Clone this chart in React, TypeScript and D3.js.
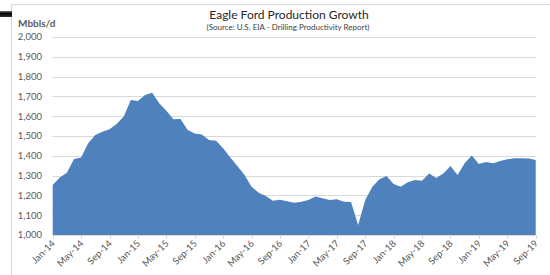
import { useEffect, useRef } from "react";
import * as d3 from "d3";

// monthly production, Jan-14 .. Sep-19 (Mbbls/d)
const monthNames = ["Jan", "Feb", "Mar", "Apr", "May", "Jun", "Jul", "Aug", "Sep", "Oct", "Nov", "Dec"];
const years = [14, 15, 16, 17, 18, 19];
const monthLabels = years.flatMap((yr) => monthNames.map((m) => `${m}-${yr}`)).slice(0, 69);

const production = [
  1252, 1291, 1315, 1384, 1392, 1463, 1505, 1522, 1534, 1560, 1598, 1682,
  1677, 1707, 1719, 1665, 1628, 1584, 1586, 1530, 1513, 1508, 1480, 1476,
  1438, 1392, 1349, 1303, 1244, 1214, 1197, 1173, 1178, 1170, 1163, 1168,
  1177, 1194, 1185, 1177, 1180, 1168, 1167, 1050, 1177, 1244, 1281, 1298,
  1258, 1244, 1266, 1278, 1274, 1311, 1288, 1311, 1348, 1303, 1362, 1401,
  1359, 1369, 1362, 1374, 1382, 1387, 1387, 1386, 1379,
];

const yTicks = [1000, 1100, 1200, 1300, 1400, 1500, 1600, 1700, 1800, 1900, 2000];

const font = "Lato, 'Open Sans', sans-serif";

export default function App() {
  const ref = useRef<SVGSVGElement | null>(null);

  useEffect(() => {
    if (!ref.current) return;
    const svg = d3.select(ref.current);
    svg.selectAll("*").remove();

    const width = 550;
    const height = 275;
    const left = 52.7;
    const right = 535.7;
    const top = 37;
    const bottom = 235;

    const data = production.map((v, i) => ({ i, v }));

    const x = d3.scaleLinear().domain([0, data.length - 1]).range([left, right]);
    const y = d3.scaleLinear().domain([1000, 2000]).range([bottom, top]);

    svg.append("rect").attr("width", width).attr("height", height).attr("fill", "#fff");

    // chart frame (right and bottom edges run off the page)
    svg
      .append("rect")
      .attr("x", 11.5)
      .attr("y", 4.5)
      .attr("width", 560)
      .attr("height", 290)
      .attr("fill", "none")
      .attr("stroke", "#d9d9d9");

    const grad = svg.append("defs").append("linearGradient").attr("id", "bar").attr("x1", 0).attr("y1", 0).attr("x2", 0).attr("y2", 1);
    grad.append("stop").attr("offset", 0).attr("stop-color", "#777");
    grad.append("stop").attr("offset", 0.4).attr("stop-color", "#000");
    grad.append("stop").attr("offset", 1).attr("stop-color", "#333");
    svg.append("rect").attr("x", 0).attr("y", 11).attr("width", 12).attr("height", 6).attr("fill", "url(#bar)");

    // gridlines
    svg
      .append("g")
      .selectAll("line")
      .data(yTicks.slice(1))
      .join("line")
      .attr("x1", left)
      .attr("x2", right)
      .attr("y1", (d) => Math.round(y(d)) + 0.5)
      .attr("y2", (d) => Math.round(y(d)) + 0.5)
      .attr("stroke", "#d9d9d9")
      .attr("stroke-width", 1);

    const area = d3
      .area<{ i: number; v: number }>()
      .x((d) => x(d.i))
      .y0(y(1000))
      .y1((d) => y(d.v));

    svg.append("path").datum(data).attr("fill", "#4f81bd").attr("d", area);

    // y labels
    svg
      .append("g")
      .selectAll("text")
      .data(yTicks)
      .join("text")
      .attr("x", 42)
      .attr("y", (d) => y(d))
      .attr("dy", "0.35em")
      .attr("text-anchor", "end")
      .attr("fill", "#595959")
      .attr("font-family", font)
      .attr("font-size", 9.5)
      .text((d) => d3.format(",")(d));

    // x axis
    const xAxis = svg.append("g").attr("transform", `translate(0,${bottom})`);
    xAxis
      .append("line")
      .attr("x1", left)
      .attr("x2", right)
      .attr("y1", 0.5)
      .attr("y2", 0.5)
      .attr("stroke", "#d9d9d9");

    const tickIdx = d3.range(0, data.length, 4);
    xAxis
      .selectAll("line.tick")
      .data(tickIdx)
      .join("line")
      .attr("class", "tick")
      .attr("x1", (d) => Math.round(x(d)) + 0.5)
      .attr("x2", (d) => Math.round(x(d)) + 0.5)
      .attr("y1", 0)
      .attr("y2", 4)
      .attr("stroke", "#d9d9d9");

    xAxis
      .selectAll("text")
      .data(tickIdx)
      .join("text")
      .attr("transform", (d) => `translate(${x(d) + 3},${9}) rotate(-45)`)
      .attr("text-anchor", "end")
      .attr("fill", "#595959")
      .attr("font-family", font)
      .attr("font-size", 9.5)
      .text((d) => monthLabels[d]);

    // titles
    svg
      .append("text")
      .attr("x", 289)
      .attr("y", 19)
      .attr("text-anchor", "middle")
      .attr("fill", "#262626")
      .attr("font-family", font)
      .attr("font-size", 12)
      .text("Eagle Ford Production Growth");

    svg
      .append("text")
      .attr("x", 288)
      .attr("y", 30)
      .attr("text-anchor", "middle")
      .attr("fill", "#404040")
      .attr("font-family", font)
      .attr("font-size", 8)
      .text("(Source: U.S. EIA - Drilling Productivity Report)");

    svg
      .append("text")
      .attr("x", 18)
      .attr("y", 27)
      .attr("fill", "#595959")
      .attr("font-family", font)
      .attr("font-weight", "bold")
      .attr("font-size", 10)
      .text("Mbbls/d");
  }, []);

  return (
    <svg
      ref={ref}
      width={550}
      height={275}
      style={{ position: "absolute", left: 0, top: 0, display: "block" }}
    />
  );
}
